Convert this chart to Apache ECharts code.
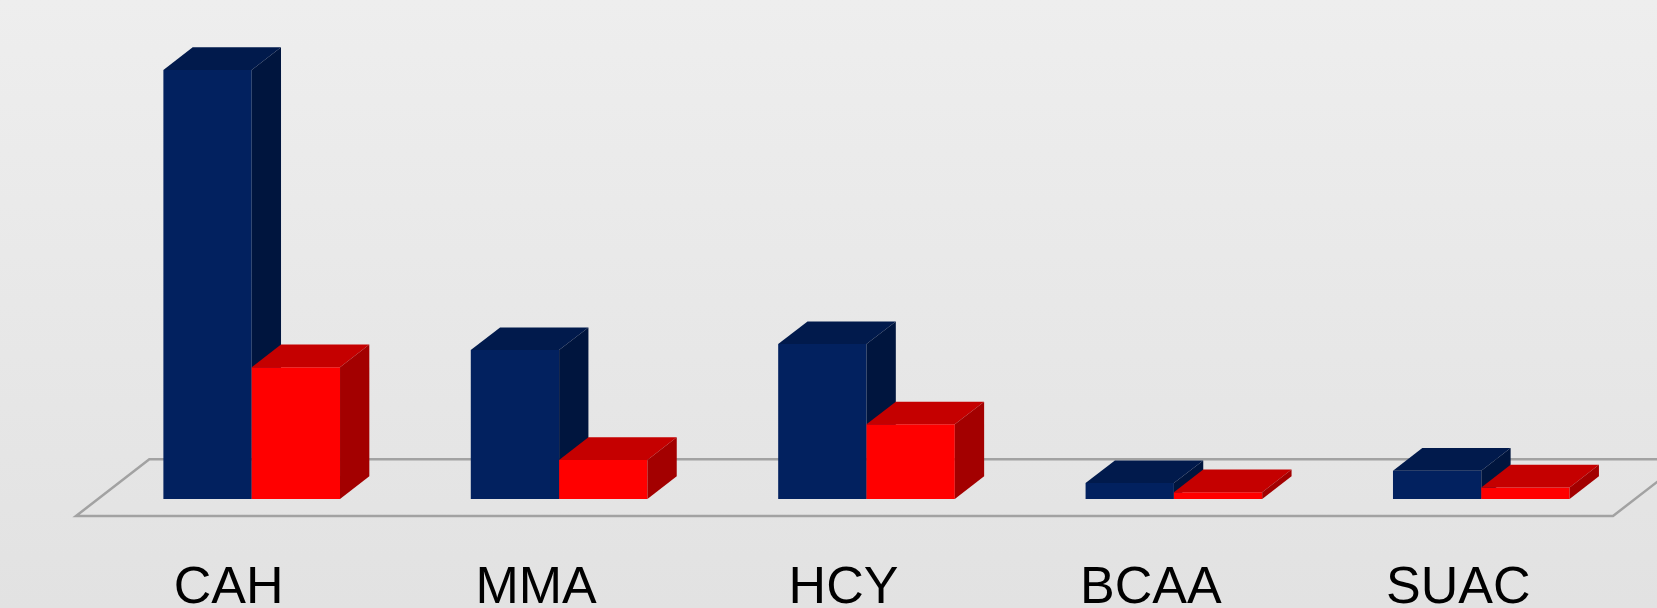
<!DOCTYPE html>
<html>
<head>
    <meta charset="utf-8">
    <title></title>
    <script type="text/javascript" src="https://cdn.jsdelivr.net/npm/echarts@6.0.0/dist/echarts.min.js"></script>
    <style>
        html, body { margin: 0; padding: 0; }
        body { background: linear-gradient(to bottom, #eeeeee 0%, #e2e2e2 100%); }
    </style>
</head>
<body>

<div id="main" style="width: 1657px;height:608px;"></div>
<script type="text/javascript">
    // 数据
    var categories = ['CAH', 'MMA', 'HCY', 'BCAA', 'SUAC'];
    var blueValues = [100, 34.7, 36.1, 3.7, 6.6];
    var redValues = [30.7, 9.1, 17.4, 1.6, 2.7];

    // 3D 外观参数（相对于柱宽）
    var BAR = 0.2873;      // 柱宽 / 类目宽
    var DX = 0.332;        // 纵深 x 偏移
    var DY = 0.257;        // 纵深 y 偏移
    var FLOOR_FRONT = -0.75;
    var FLOOR_BACK = 1.75;

    function makeBar(slot, front, top, side) {
        return function (params, api) {
            var idx = api.value(0);
            var base = api.coord([idx, 0]);
            var peak = api.coord([idx, api.value(1)]);
            var band = api.size([1, 0])[0];
            var w = band * BAR;
            var dx = w * DX, dy = w * DY;
            var x0 = base[0] - w + slot * w;
            var x1 = x0 + w;
            var yb = base[1], yt = peak[1];
            return {
                type: 'group',
                children: [
                    {
                        type: 'rect',
                        shape: {x: x0, y: yt, width: w, height: yb - yt},
                        style: {fill: front}
                    },
                    {
                        type: 'polygon',
                        shape: {points: [[x0, yt], [x0 + dx, yt - dy], [x1 + dx, yt - dy], [x1, yt]]},
                        style: {fill: top}
                    },
                    {
                        type: 'polygon',
                        shape: {points: [[x1, yt], [x1 + dx, yt - dy], [x1 + dx, yb - dy], [x1, yb]]},
                        style: {fill: side}
                    }
                ]
            };
        };
    }

    function renderFloor(params, api) {
        var c0 = api.coord([0, 0]);
        var band = api.size([1, 0])[0];
        var w = band * BAR;
        var dx = w * DX, dy = w * DY;
        var left = c0[0] - band / 2;
        var right = left + band * categories.length;
        var y = c0[1];
        return {
            type: 'polygon',
            shape: {
                points: [
                    [left + FLOOR_FRONT * dx, y - FLOOR_FRONT * dy],
                    [right + FLOOR_FRONT * dx, y - FLOOR_FRONT * dy],
                    [right + FLOOR_BACK * dx, y - FLOOR_BACK * dy],
                    [left + FLOOR_BACK * dx, y - FLOOR_BACK * dy]
                ]
            },
            style: {fill: 'none', stroke: '#a2a2a2', lineWidth: 2.5}
        };
    }

    var myChart = echarts.init(document.getElementById('main'));

    var option = {
        backgroundColor: 'transparent',
        animation: false,
        grid: {left: 98, right: 22, top: 27, bottom: 109, outerBoundsMode: 'none', containLabel: false},
        xAxis: {
            type: 'category',
            data: categories,
            axisLine: {show: false},
            axisTick: {show: false},
            axisLabel: {
                fontSize: 52,
                color: '#000',
                fontFamily: 'Liberation Sans',
                margin: 64,
                padding: [0, 46, 0, 0]
            }
        },
        yAxis: {
            type: 'value',
            min: 0,
            max: 110,
            show: false,
            splitLine: {show: false}
        },
        series: [
            {
                type: 'custom',
                renderItem: renderFloor,
                data: [[0, 0]],
                silent: true
            },
            {
                type: 'custom',
                name: 'blue',
                renderItem: makeBar(0, '#02215f', '#011a4c', '#00153e'),
                data: blueValues.map(function (v, i) { return [i, v]; })
            },
            {
                type: 'custom',
                name: 'red',
                renderItem: makeBar(1, '#ff0000', '#c50000', '#a30000'),
                data: redValues.map(function (v, i) { return [i, v]; })
            }
        ]
    };

    myChart.setOption(option);
</script>

</body>
</html>
